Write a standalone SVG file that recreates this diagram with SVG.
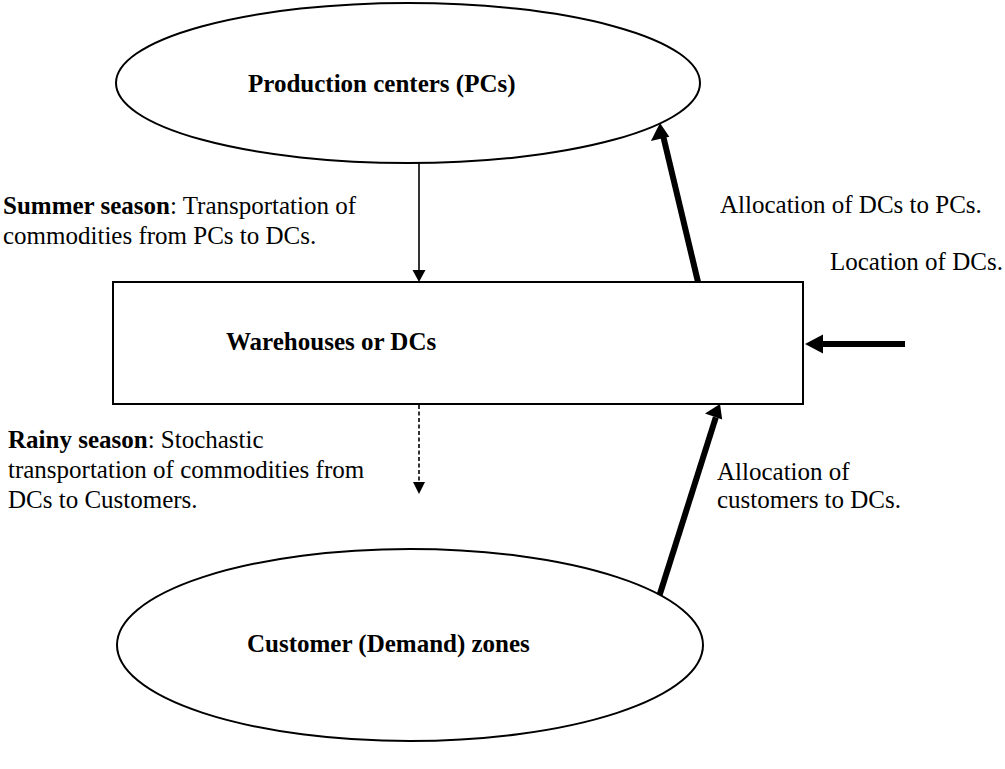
<svg xmlns="http://www.w3.org/2000/svg" width="1005" height="769" viewBox="0 0 1005 769">
<style>
  text { font-family: "Liberation Serif", "Times New Roman", serif; font-size: 25px; fill: #000; }
  .b { font-weight: bold; }
  .shape { fill: #fff; stroke: #000; stroke-width: 2; }
  .thin { stroke: #000; stroke-width: 1.6; fill: none; }
  .dash { stroke: #000; stroke-width: 1.6; fill: none; stroke-dasharray: 4 2.5; }
  .thick { stroke: #000; stroke-width: 6; fill: none; }
  .head { fill: #000; stroke: none; }
</style>

<g id="node-pcs">
  <ellipse class="shape" cx="408" cy="83" rx="292" ry="80"/>
  <text class="b" x="248" y="92">Production centers (PCs)</text>
</g>

<g id="node-dcs">
  <rect class="shape" x="113" y="282" width="690" height="122"/>
  <text class="b" x="226" y="350">Warehouses or DCs</text>
</g>

<g id="node-customers">
  <ellipse class="shape" cx="410" cy="645" rx="293" ry="96"/>
  <text class="b" x="247" y="652">Customer (Demand) zones</text>
</g>

<g id="connectors">
  <line class="thin" x1="419" y1="163" x2="419" y2="272"/>
  <path class="head" d="M412.5,270 L425.5,270 L419,282 z"/>
  <line class="dash" x1="419" y1="405" x2="419" y2="482"/>
  <path class="head" d="M413,482 L425,482 L419,494 z"/>
  <line class="thick" x1="698" y1="282" x2="663.3" y2="136.6"/>
  <path class="head" d="M650.9,141.1 L660,123 L669.3,136.7 z"/>
  <line class="thick" x1="905" y1="344" x2="819" y2="344"/>
  <path class="head" d="M823,334.5 L805,344 L823,353.5 z"/>
  <line class="thick" x1="659.6" y1="595" x2="715.8" y2="417.3"/>
  <path class="head" d="M705,413.6 L720,404 L722.2,419.5 z"/>
</g>

<g id="labels">
  <text x="3" y="214"><tspan class="b">Summer season</tspan>: Transportation of</text>
  <text x="3" y="244">commodities from PCs to DCs.</text>
  <text x="720" y="213">Allocation of DCs to PCs.</text>
  <text x="830" y="270">Location of DCs.</text>
  <text x="8" y="448"><tspan class="b">Rainy season</tspan>: Stochastic</text>
  <text x="8" y="478">transportation of commodities from</text>
  <text x="8" y="508">DCs to Customers.</text>
  <text x="717" y="480">Allocation of</text>
  <text x="717" y="508">customers to DCs.</text>
</g>
</svg>
